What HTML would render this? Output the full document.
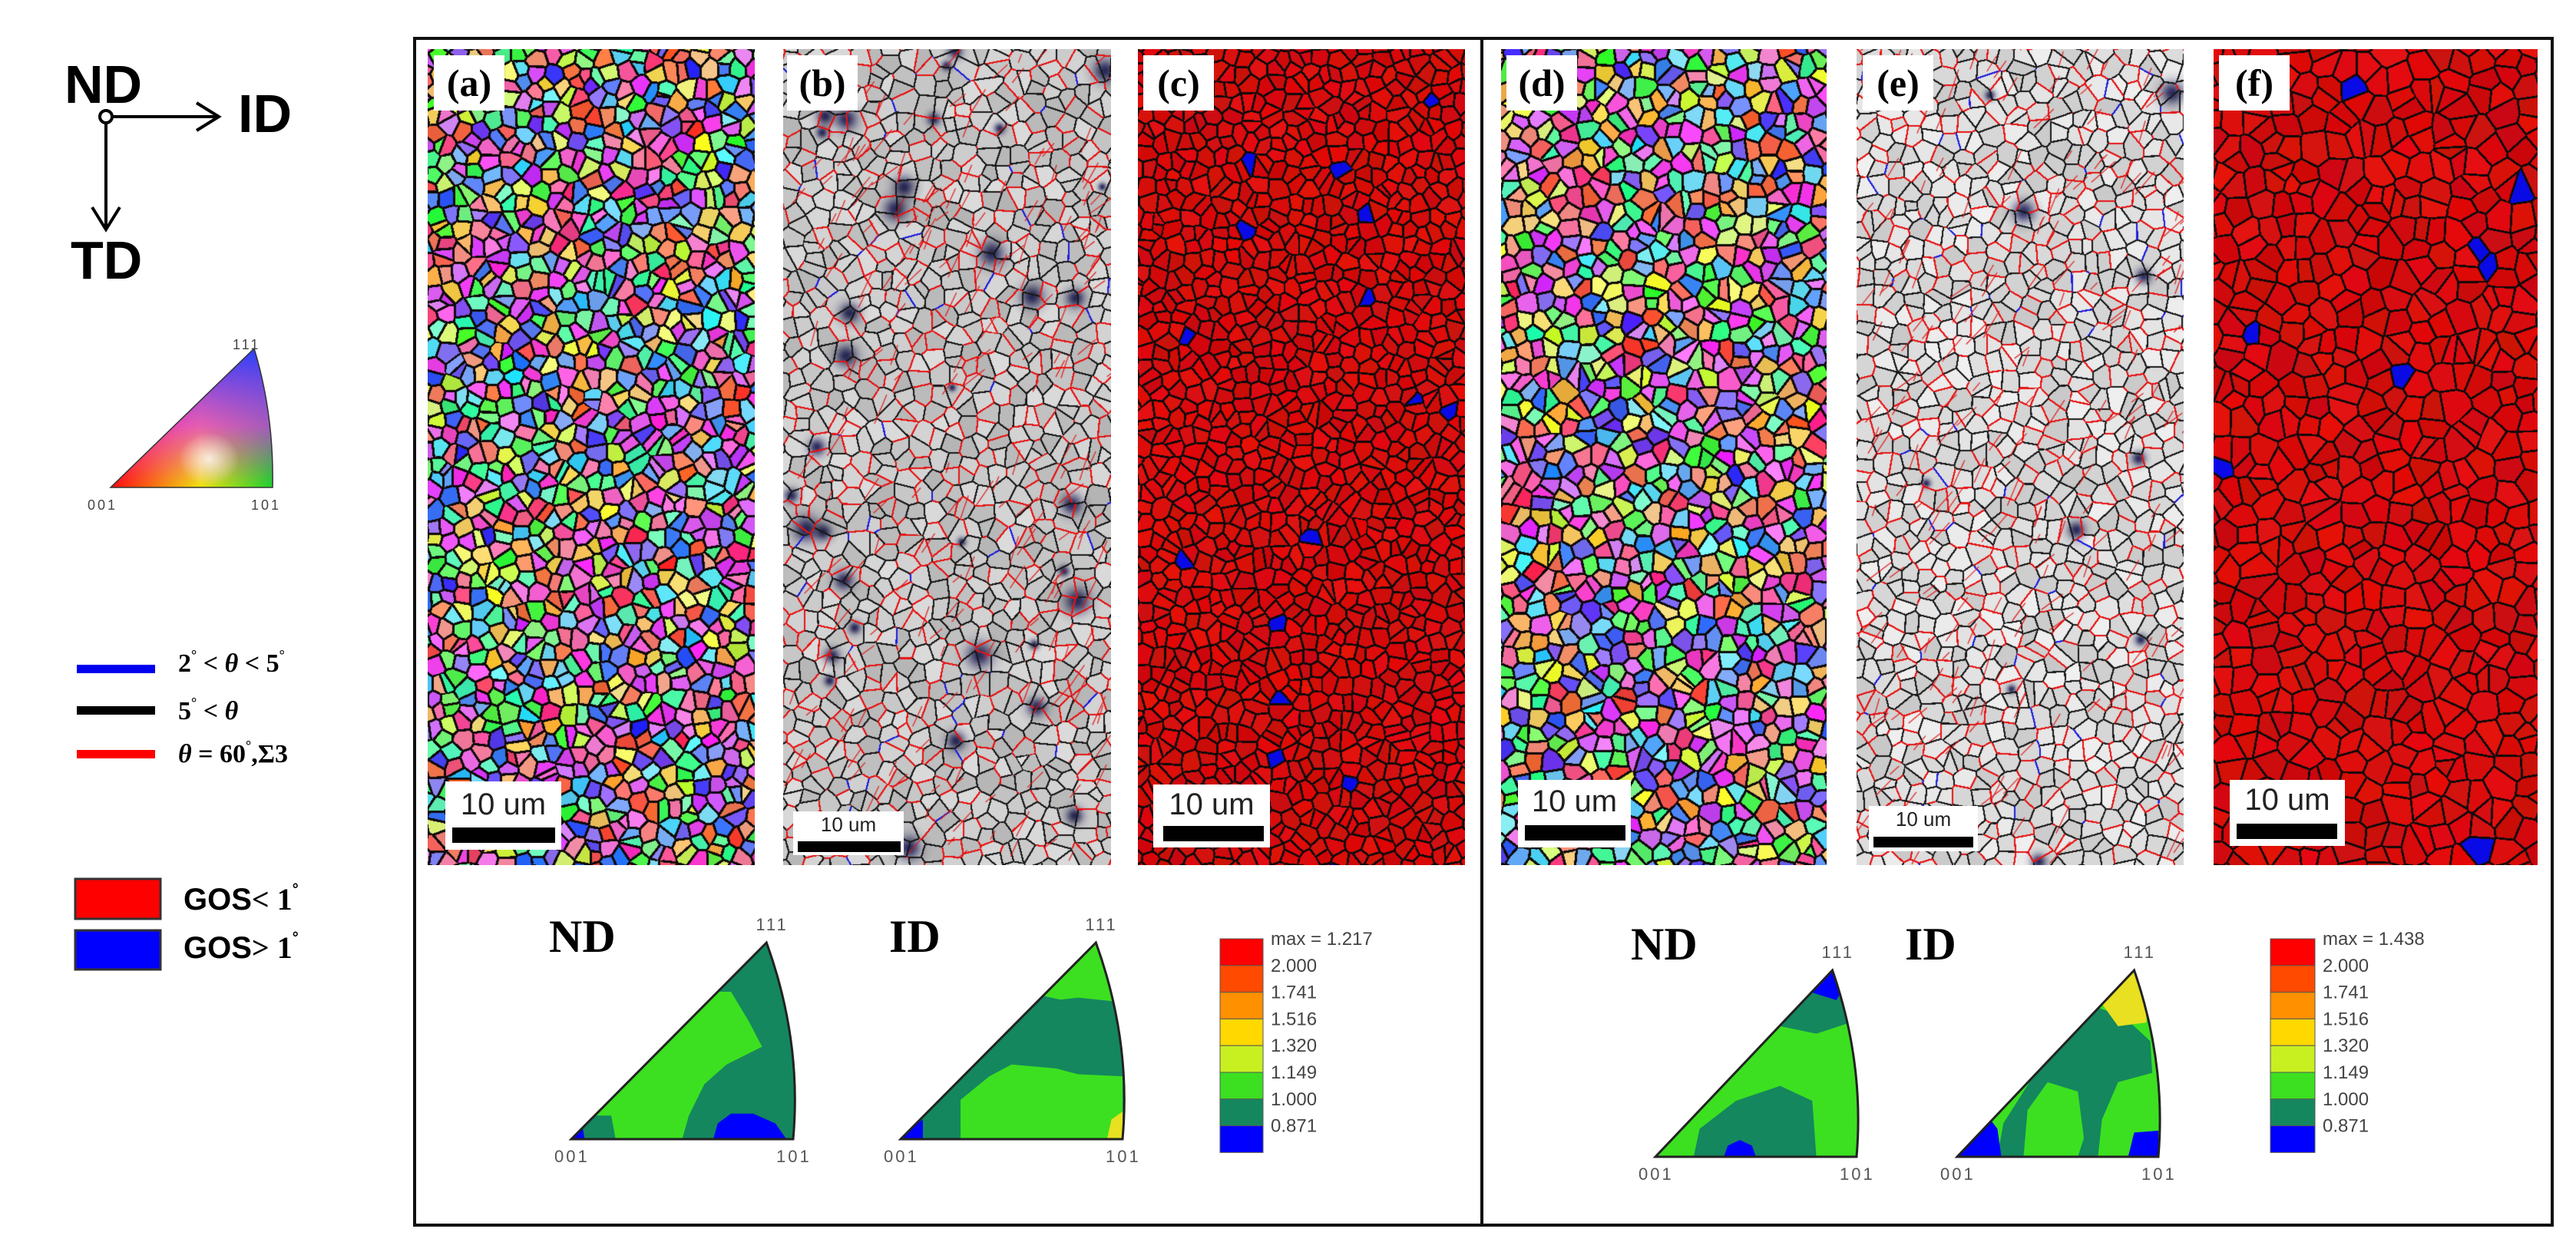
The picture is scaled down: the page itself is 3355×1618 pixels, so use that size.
<!DOCTYPE html>
<html><head><meta charset="utf-8">
<style>
html,body{margin:0;padding:0;background:#fff;}
#root{position:relative;width:3355px;height:1618px;overflow:hidden;background:#fff;font-family:"Liberation Sans",sans-serif;}
.abs{position:absolute;}
canvas{position:absolute;}
.lbl{position:absolute;background:#fff;font-family:"Liberation Serif",serif;font-weight:bold;font-size:50px;line-height:72px;text-align:center;color:#000;width:92px;height:72px;}
.sb{position:absolute;background:#fff;}
.sb span{position:absolute;left:0;right:0;text-align:center;color:#222;}
.sb i{position:absolute;background:#000;}
</style></head>
<body>
<div id="root">

<svg class="abs" style="left:0;top:0" width="520" height="1618">
  <g>
    <circle cx="138" cy="152" r="8" fill="none" stroke="#000" stroke-width="4"/>
    <line x1="146" y1="152" x2="282" y2="152" stroke="#000" stroke-width="4"/>
    <polyline points="256,134 285,152 256,170" fill="none" stroke="#000" stroke-width="4"/>
    <line x1="138" y1="160" x2="138" y2="296" stroke="#000" stroke-width="4"/>
    <polyline points="120,270 138,299 156,270" fill="none" stroke="#000" stroke-width="4"/>
    <text x="84" y="134" font-family="Liberation Sans" font-weight="bold" font-size="70">ND</text>
    <text x="310" y="172" font-family="Liberation Sans" font-weight="bold" font-size="70">ID</text>
    <text x="92" y="363" font-family="Liberation Sans" font-weight="bold" font-size="70">TD</text>
  </g>
  <defs>
    <clipPath id="keyclip"><path d="M144,635 L331,454 Q357,540 355,635 Z"/></clipPath>
    <linearGradient id="kg1" x1="0" y1="0" x2="1" y2="0"><stop offset="0" stop-color="#ff0000"/><stop offset="0.55" stop-color="#f0f000"/><stop offset="1" stop-color="#00e020"/></linearGradient>
    <linearGradient id="kg2" x1="0" y1="1" x2="0" y2="0"><stop offset="0" stop-color="#ff00ff" stop-opacity="0"/><stop offset="0.45" stop-color="#e020ff" stop-opacity="0.7"/><stop offset="1" stop-color="#2040ff" stop-opacity="1"/></linearGradient>
    <radialGradient id="kg3" cx="0.6" cy="0.78" r="0.18"><stop offset="0" stop-color="#fff" stop-opacity="0.8"/><stop offset="1" stop-color="#fff" stop-opacity="0"/></radialGradient>
  </defs>
  <g clip-path="url(#keyclip)">
    <rect x="140" y="450" width="220" height="190" fill="url(#kg1)"/>
    <rect x="140" y="450" width="220" height="190" fill="url(#kg2)"/>
    <rect x="140" y="450" width="220" height="190" fill="url(#kg3)"/>
  </g>
  <path d="M144,635 L331,454 Q357,540 355,635 Z" fill="none" stroke="#333" stroke-width="1.5"/>
  <text x="303" y="455" font-size="18" fill="#444" letter-spacing="3">111</text>
  <text x="114" y="664" font-size="18" fill="#444" letter-spacing="3">001</text>
  <text x="327" y="664" font-size="18" fill="#444" letter-spacing="3">101</text>

  <rect x="100" y="866" width="102" height="11" fill="#0000ee"/>
  <rect x="100" y="920" width="102" height="11" fill="#000"/>
  <rect x="100" y="977" width="102" height="11" fill="#ff0000"/>
  <text x="232" y="875" font-family="Liberation Serif" font-weight="bold" font-size="34">2<tspan font-size="18" dy="-16">°</tspan><tspan dy="16"> &lt; </tspan><tspan font-style="italic">θ</tspan> &lt; 5<tspan font-size="18" dy="-16">°</tspan></text>
  <text x="232" y="937" font-family="Liberation Serif" font-weight="bold" font-size="34">5<tspan font-size="18" dy="-16">°</tspan><tspan dy="16"> &lt; </tspan><tspan font-style="italic">θ</tspan></text>
  <text x="232" y="993" font-family="Liberation Serif" font-weight="bold" font-size="34"><tspan font-style="italic">θ</tspan> = 60<tspan font-size="18" dy="-16">°</tspan><tspan dy="16">,Σ3</tspan></text>

  <rect x="98" y="1145" width="111" height="52" fill="#ff0000" stroke="#333" stroke-width="3"/>
  <rect x="98" y="1212" width="111" height="51" fill="#0000ff" stroke="#333" stroke-width="3"/>
  <text x="239" y="1185" font-family="Liberation Sans" font-weight="bold" font-size="40">GOS<tspan font-family="Liberation Serif">&lt; 1</tspan><tspan font-size="20" dy="-20">°</tspan></text>
  <text x="239" y="1248" font-family="Liberation Sans" font-weight="bold" font-size="40">GOS<tspan font-family="Liberation Serif">&gt; 1</tspan><tspan font-size="20" dy="-20">°</tspan></text>
</svg>

<div class="abs" style="left:538px;top:48px;width:2780px;height:1542px;border:4px solid #111;"></div>
<div class="abs" style="left:1928px;top:48px;width:4px;height:1546px;background:#111;"></div>

<canvas id="pa" style="left:557px;top:64px" width="426" height="1063"></canvas>
<canvas id="pb" style="left:1020px;top:64px" width="427" height="1063"></canvas>
<canvas id="pc" style="left:1482px;top:64px" width="426" height="1063"></canvas>
<canvas id="pd" style="left:1955px;top:64px" width="424" height="1063"></canvas>
<canvas id="pe" style="left:2418px;top:64px" width="426" height="1063"></canvas>
<canvas id="pf" style="left:2883px;top:64px" width="422" height="1063"></canvas>

<div class="lbl" style="left:565px;top:72px">(a)</div>
<div class="lbl" style="left:1025px;top:72px">(b)</div>
<div class="lbl" style="left:1489px;top:72px">(c)</div>
<div class="lbl" style="left:1962px;top:72px">(d)</div>
<div class="lbl" style="left:2426px;top:72px">(e)</div>
<div class="lbl" style="left:2890px;top:72px">(f)</div>

<div class="sb" style="left:580px;top:1018px;width:151px;height:89px"><span style="top:8px;font-size:40px">10 um</span><i style="left:9px;top:60px;width:134px;height:20px"></i></div>
<div class="sb" style="left:1033px;top:1057px;width:144px;height:57px"><span style="top:2px;font-size:26px">10 um</span><i style="left:6px;top:39px;width:134px;height:14px"></i></div>
<div class="sb" style="left:1502px;top:1022px;width:152px;height:82px"><span style="top:4px;font-size:40px">10 um</span><i style="left:13px;top:54px;width:131px;height:20px"></i></div>
<div class="sb" style="left:1977px;top:1016px;width:147px;height:88px"><span style="top:6px;font-size:40px">10 um</span><i style="left:9px;top:59px;width:131px;height:20px"></i></div>
<div class="sb" style="left:2434px;top:1050px;width:142px;height:59px"><span style="top:2px;font-size:26px">10 um</span><i style="left:6px;top:40px;width:130px;height:14px"></i></div>
<div class="sb" style="left:2904px;top:1016px;width:150px;height:86px"><span style="top:4px;font-size:40px">10 um</span><i style="left:9px;top:57px;width:131px;height:20px"></i></div>

<svg id="ipfs" class="abs" style="left:0;top:0" width="3355" height="1618"></svg>

</div>
<script>
const barColors = ["#ff0000","#ff4a00","#ff9000","#ffd800","#c8f020","#3ce020","#14875e","#0000ff"];
const barLabelsLeft = ["2.000","1.741","1.516","1.320","1.149","1.000","0.871"];
const barLabelsRight = ["2.000","1.741","1.516","1.320","1.149","1.000","0.871"];
const maxLeft = "max = 1.217";
const maxRight = "max = 1.438";

const TEAL="#14875e", GREEN="#3ce020", BLUE="#0000ff", YEL="#e8e020";
const ipfLeftND = {base:TEAL, regions:[
  [GREEN,[[0.105,0.12],[0.66,0.75],[0.72,0.75],[0.8,0.6],[0.86,0.47],[0.7,0.38],[0.6,0.28],[0.53,0.12],[0.5,0],[0.2,0],[0.18,0.12]]],
  [BLUE,[[0.64,0],[0.66,0.08],[0.72,0.13],[0.82,0.13],[0.92,0.08],[0.97,0]]],
  [BLUE,[[0,0],[0.06,0],[0.05,0.07]]]]};
const ipfLeftID = {base:TEAL, regions:[
  [GREEN,[[0.64,0.73],[0.88,1],[0.98,0.78],[0.97,0.7],[0.8,0.72],[0.72,0.71]]],
  [GREEN,[[0.27,0],[0.27,0.2],[0.4,0.32],[0.5,0.38],[0.7,0.36],[0.8,0.33],[1.0,0.32],[1,0]]],
  [YEL,[[0.93,0],[1,0],[1,0.14],[0.95,0.1]]],
  [BLUE,[[0,0],[0.1,0],[0.1,0.1],[0.06,0.07]]]]};
const ipfRightND = {base:GREEN, regions:[
  [TEAL,[[0.62,0.7],[0.8,0.9],[0.93,0.88],[0.97,0.72],[0.8,0.66]]],
  [BLUE,[[0.78,0.88],[0.88,1],[0.93,0.9],[0.9,0.84]]],
  [TEAL,[[0.19,0],[0.22,0.15],[0.4,0.3],[0.62,0.38],[0.78,0.3],[0.8,0]]],
  [BLUE,[[0.34,0],[0.36,0.06],[0.42,0.09],[0.48,0.06],[0.5,0]]]]};
const ipfRightID = {base:GREEN, regions:[
  [TEAL,[[0.2,0],[0.23,0.18],[0.36,0.4],[0.5,0.57],[0.7,0.8],[0.83,0.75],[0.96,0.62],[0.97,0.45],[0.8,0.4],[0.72,0.2],[0.7,0]]],
  [GREEN,[[0.33,0],[0.35,0.25],[0.45,0.4],[0.6,0.35],[0.63,0.1],[0.6,0]]],
  [YEL,[[0.72,0.82],[0.88,1],[0.95,0.9],[0.94,0.72],[0.8,0.7]]],
  [BLUE,[[0,0],[0.22,0],[0.2,0.15],[0.13,0.25]]],
  [BLUE,[[0.85,0],[1,0],[1,0.14],[0.88,0.13]]]]};

const NS="http://www.w3.org/2000/svg";
const svg=document.getElementById('ipfs');
function mk(tag,attrs,parent){const e=document.createElementNS(NS,tag);for(const k in attrs)e.setAttribute(k,attrs[k]);(parent||svg).appendChild(e);return e;}
let clipN=0;
function drawIPF(spec,x0,y0,W,H,name,label,lx,ly){
  const g=mk('g',{});
  
  
  const tx=u=>x0+u*W, ty=v=>y0-v*H;
  const outline=`M${tx(0)},${ty(0)} L${tx(0.88)},${ty(1)} Q${tx(1.04)},${ty(0.5)} ${tx(1)},${ty(0)} Z`;
  const id='ipfclip'+(clipN++);
  const cp=mk('clipPath',{id:id},g); mk('path',{d:outline},cp);
  const inner=mk('g',{'clip-path':`url(#${id})`},g);
  mk('rect',{x:x0-5,y:y0-H-5,width:W+20,height:H+10,fill:spec.base},inner);
  spec.regions.forEach(r=>{
    const pts=r[1].map(p=>tx(p[0])+','+ty(p[1])).join(' ');
    mk('polygon',{points:pts,fill:r[0]},inner);
  });
  mk('path',{d:outline,fill:'none',stroke:'#222','stroke-width':3},g);
  const t1=mk('text',{x:tx(0.88)-14,y:ty(1)-16,'font-size':22,fill:'#555','letter-spacing':3},g); t1.textContent='111';
  const t2=mk('text',{x:tx(0)-22,y:y0+30,'font-size':22,fill:'#555','letter-spacing':3},g); t2.textContent='001';
  const t3=mk('text',{x:tx(1)-22,y:y0+30,'font-size':22,fill:'#555','letter-spacing':3},g); t3.textContent='101';
  const tl=mk('text',{x:lx,y:ly,'font-size':60,'font-weight':'bold','font-family':'Liberation Serif',fill:'#000'},g); tl.textContent=label;
  
  
}
drawIPF(ipfLeftND,744,1484,289,256,'ipf-nd-left','ND',715,1240);
drawIPF(ipfLeftID,1173,1484,289,256,'ipf-id-left','ID',1158,1240);
drawIPF(ipfRightND,2156,1507,262,243,'ipf-nd-right','ND',2124,1250);
drawIPF(ipfRightID,2549,1507,262,243,'ipf-id-right','ID',2481,1250);

function drawBar(x,y,w,cell,labels,maxText,name){
  const g=mk('g',{});
  
  
  barColors.forEach((c,i)=>{
    const r=mk('rect',{x:x,y:y+i*cell,width:w,height:cell,fill:c,stroke:'#555','stroke-width':1},g);
    
    
  });
  const m=mk('text',{x:x+w+10,y:y+8,'font-size':24,fill:'#444'},g); m.textContent=maxText;
  labels.forEach((l,i)=>{
    const t=mk('text',{x:x+w+10,y:y+(i+1)*cell+8,'font-size':24,fill:'#444'},g); t.textContent=l;
  });
}
drawBar(1589,1223,56,34.8,barLabelsLeft,maxLeft,'colorbar-left');
drawBar(2957,1223,58,34.8,barLabelsRight,maxRight,'colorbar-right');

function rng(seed){let s=seed>>>0;return ()=>{s=(s*1664525+1013904223)>>>0;return s/4294967296;};}
function hsl(h,s,l){s/=100;l/=100;const k=n=>(n+h/30)%12,a=s*Math.min(l,1-l);const f=n=>l-a*Math.max(-1,Math.min(k(n)-3,Math.min(9-k(n),1)));return [f(0)*255,f(8)*255,f(4)*255];}
function grainMap(id,seed,cell,mode,bw,lightGray){
  const cv=document.getElementById(id),ctx=cv.getContext('2d');
  const w=cv.width,h=cv.height,R=rng(seed);
  const gx=Math.ceil(w/cell)+2, gy=Math.ceil(h/cell)+2;
  const px=[],py=[],col=[];
  for(let j=0;j<gy;j++)for(let i=0;i<gx;i++){
    px.push((i-1+R())*cell); py.push((j-1+R())*cell);
    let c;
    if(mode==='ipf'){const hues=[330,300,280,240,210,180,140,110,60,30,0];const hh=hues[Math.floor(R()*hues.length)]+R()*20;c=hsl(hh,75+R()*25,55+R()*20);}
    else if(mode==='gray'){const v=(lightGray?200:180)+R()*40;c=[v,v,v];}
    else {c=R()<0.01?[10,10,230]:[200+R()*30,5+R()*15,5+R()*15];}
    col.push(c);
  }
  const img=ctx.createImageData(w,h),d=img.data;
  const blobs=[];
  if(mode==='gray'){const nb=lightGray?10:35;for(let k=0;k<nb;k++)blobs.push([R()*w,R()*h,5+R()*12]);}
  for(let y=0;y<h;y++){
    const cj=Math.floor(y/cell)+1;
    for(let x=0;x<w;x++){
      const ci=Math.floor(x/cell)+1;
      let b1=-1,b2=-1,d1=1e9,d2=1e9;
      for(let dj=-1;dj<=1;dj++){const jj=cj+dj;if(jj<0||jj>=gy)continue;
        for(let di=-1;di<=1;di++){const ii=ci+di;if(ii<0||ii>=gx)continue;
          const k=jj*gx+ii,dx=px[k]-x,dy=py[k]-y,dd=dx*dx+dy*dy;
          if(dd<d1){d2=d1;b2=b1;d1=dd;b1=k;}else if(dd<d2){d2=dd;b2=k;}}}
      let dist=1e9;
      if(b2>=0){const ex=px[b2]-px[b1],ey=py[b2]-py[b1];dist=(d2-d1)/(2*Math.sqrt(ex*ex+ey*ey));}
      let c=col[b1];const o=(y*w+x)*4;
      let r=c[0],g=c[1],bb=c[2];
      if(mode==='gray'){
        for(const bl of blobs){const ddx=x-bl[0],ddy=y-bl[1],q=(ddx*ddx+ddy*ddy)/(bl[2]*bl[2]);if(q<4){const f=Math.exp(-q)*0.8;r*=1-f;g*=1-f;bb*=1-f*0.7;}}
        if(dist<1.1){const hsh=((Math.min(b1,b2)*73856093)^(Math.max(b1,b2)*19349663))>>>0;
          if(hsh%100<35){r=230;g=20;bb=20;}else if(hsh%100<37){r=30;g=30;bb=220;}else{r=25;g=25;bb=25;}}
      } else if(dist<bw){r=15;g=10;bb=10;}
      d[o]=r;d[o+1]=g;d[o+2]=bb;d[o+3]=255;
    }
  }
  ctx.putImageData(img,0,0);
  if(mode==='gray'){
    ctx.strokeStyle='rgba(225,20,20,0.9)';ctx.lineWidth=1.3;
    for(let k=0;k<220;k++){const x=R()*w,y=R()*h,a=-1.3+R()*0.7,l=12+R()*30;ctx.beginPath();ctx.moveTo(x,y);ctx.lineTo(x+Math.cos(a)*l,y+Math.sin(a)*l);ctx.stroke();}
  }
}
grainMap('pa',11,19,'ipf',1.6);
grainMap('pb',23,21,'gray',1.1,false);
grainMap('pc',37,19,'red',1.4);
grainMap('pd',41,20,'ipf',1.6);
grainMap('pe',53,21,'gray',1.1,true);
grainMap('pf',67,28,'red',1.4);
</script>
</body></html>
